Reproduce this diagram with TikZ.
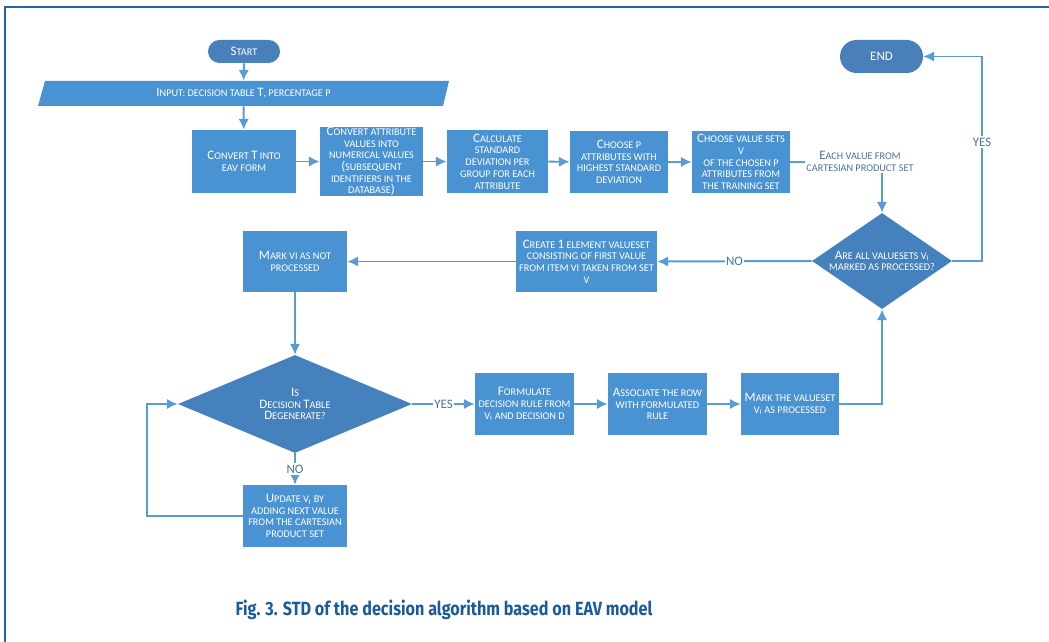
\documentclass[tikz,border=0pt]{standalone}
\usepackage{fontspec}
\usepackage{graphicx}
\setmainfont{Carlito}
\newfontfamily\capfont{Fira Sans}
\usetikzlibrary{arrows.meta,shapes.geometric}

\definecolor{boxblue}{HTML}{4A93D2}
\definecolor{diablue}{HTML}{4581BC}
\definecolor{pillblue}{HTML}{4A80B9}
\definecolor{lineblue}{HTML}{5B9BD5}
\definecolor{lblgray}{HTML}{4C739C}
\definecolor{framblue}{HTML}{2266A6}
\definecolor{capblue}{HTML}{1C5B9B}

\newcommand\bigc[1]{{\fontsize{9.2}{8.3}\selectfont #1}}

\tikzset{
  proc/.style={rectangle, fill=boxblue, text=white, align=center, inner sep=0pt,
    font=\fontsize{7.3}{8.3}\selectfont},
  pill/.style={rectangle, rounded corners=#1, fill=pillblue, text=white, inner sep=0pt,
    font=\fontsize{7.3}{8.3}\selectfont},
  decide/.style={diamond, fill=diablue, text=white, align=center, inner sep=0pt,
    font=\fontsize{7.3}{8.3}\selectfont},
  lbl/.style={text=lblgray, fill=white, inner sep=1pt, align=center,
    font=\fontsize{7.3}{8.3}\selectfont},
  arr/.style={draw=lineblue, line width=1.4pt, -{Latex[length=0.27cm,width=0.26cm]}},
  conn/.style={draw=lineblue, line width=1.4pt},
}

\begin{document}
\begin{tikzpicture}[x=0.025cm, y=-0.025cm]
\useasboundingbox (0,0) rectangle (1049,642);
\draw[framblue, line width=1.2pt] (5,642) -- (5,7) -- (1049,7);

% start and input
\node[pill=0.2875cm, minimum width=1.8cm, minimum height=0.575cm] (start) at (244,51.5) {\bigc{S}TART};
\fill[boxblue] (45,81) -- (449,81) -- (443,106) -- (38,106) -- cycle;
\node[inner sep=0pt, minimum width=10.1cm, minimum height=0.625cm, text=white,
  font=\fontsize{7.3}{8.3}\selectfont] (inp) at (243.5,93.5)
  {\bigc{I}NPUT: DECISION TABLE \bigc{T}, PERCENTAGE P};

% first row
\node[proc, minimum width=2.6cm, minimum height=1.575cm] (conv) at (244,161.5)
  {\bigc{C}ONVERT \bigc{T} INTO\\EAV FORM};
\node[proc, minimum width=2.575cm, minimum height=1.725cm] (num) at (371.5,161.5)
  {\bigc{C}ONVERT ATTRIBUTE\\VALUES INTO\\NUMERICAL VALUES\\\bigc{(}SUBSEQUENT\\IDENTIFIERS IN THE\\DATABASE\bigc{)}};
\node[proc, minimum width=2.525cm, minimum height=1.575cm] (std) at (497.5,161.5)
  {\bigc{C}ALCULATE\\STANDARD\\DEVIATION PER\\GROUP FOR EACH\\ATTRIBUTE};
\node[proc, minimum width=2.45cm, minimum height=1.55cm] (pick) at (619,162)
  {\bigc{C}HOOSE P\\ATTRIBUTES WITH\\HIGHEST STANDARD\\DEVIATION};
\node[proc, minimum width=2.45cm, minimum height=1.55cm] (vsets) at (741,162)
  {\bigc{C}HOOSE VALUE SETS\\V\\OF THE CHOSEN P\\ATTRIBUTES FROM\\THE TRAINING SET};
\node[lbl] (each) at (860,161.5) {\bigc{E}ACH VALUE FROM\\CARTESIAN PRODUCT SET};

% end and right decision
\node[pill=0.4125cm, minimum width=2.075cm, minimum height=0.825cm] (end) at (881.5,56.5) {\bigc{END}};
\node[decide, aspect=1.46, minimum width=3.5cm, minimum height=2.4cm] (alldone) at (882,261)
  {\bigc{A}RE ALL VALUESETS V\textsubscript{I}\\MARKED AS PROCESSED?};
\coordinate (yesR) at (982,56.5);

% middle row
\node[proc, minimum width=3.525cm, minimum height=1.525cm] (create) at (586.5,261.5)
  {\bigc{C}REATE \bigc{1} ELEMENT VALUESET\\CONSISTING OF FIRST VALUE\\FROM ITEM VI TAKEN FROM SET\\V};
\node[proc, minimum width=2.6cm, minimum height=1.525cm] (mark) at (295,261.5)
  {\bigc{M}ARK VI AS NOT\\PROCESSED};

% lower part
\node[decide, aspect=2.39, minimum width=5.85cm, minimum height=2.45cm] (degen) at (295,404)
  {\bigc{I}S\\\bigc{D}ECISION \bigc{T}ABLE\\\bigc{D}EGENERATE?};
\node[proc, minimum width=2.6cm, minimum height=1.55cm] (update) at (295,516)
  {\bigc{U}PDATE V\textsubscript{I} BY\\ADDING NEXT VALUE\\FROM THE CARTESIAN\\PRODUCT SET};
\coordinate (loopL) at (147,516);
\node[proc, minimum width=2.475cm, minimum height=1.55cm] (form) at (524.5,404)
  {\bigc{F}ORMULATE\\DECISION RULE FROM\\V\textsubscript{I} AND DECISION D};
\node[proc, minimum width=2.475cm, minimum height=1.55cm] (assoc) at (657.5,404)
  {\bigc{A}SSOCIATE THE ROW\\WITH FORMULATED\\RULE};
\node[proc, minimum width=2.45cm, minimum height=1.55cm] (marked) at (790,404)
  {\bigc{M}ARK THE VALUESET\\V\textsubscript{I} AS PROCESSED};

% connectors
\draw[arr] (start) -- (inp);
\draw[arr] (inp) -- (conv);
\draw[arr] (conv) -- (num);
\draw[arr] (num) -- (std);
\draw[arr] (std) -- (pick);
\draw[arr] (pick) -- (vsets);
\draw[conn] (vsets.east) -- (vsets.east -| each.west);
\draw[arr] (each.south -| alldone) -- (alldone.north);
\draw[arr] (alldone.east) -| (yesR) -- (end.east);
\node[lbl] (yesA) at (982,142) {\bigc{YES}};
\draw[arr] (alldone.west) -- node[lbl] (noA) {\bigc{NO}} (create.east);
\draw[arr] (create) -- (mark);
\draw[arr] (mark) -- (degen);
\draw[arr] (degen.east) -- node[lbl] (yesB) {\bigc{YES}} (form.west);
\draw[arr] (degen.south) -- node[lbl] (noB) {\bigc{NO}} (update.north);
\draw[arr] (update.west) -- (loopL) |- (degen.west);
\draw[arr] (form) -- (assoc);
\draw[arr] (assoc) -- (marked);
\draw[arr] (marked.east) -| (alldone.south);

% caption
\node[text=capblue, font=\capfont\bfseries\fontsize{13.6}{15}\selectfont] (cap) at (444,610)
  {\scalebox{0.846}[1]{Fig. 3. STD of the decision algorithm based on EAV model}};
\end{tikzpicture}
\end{document}
